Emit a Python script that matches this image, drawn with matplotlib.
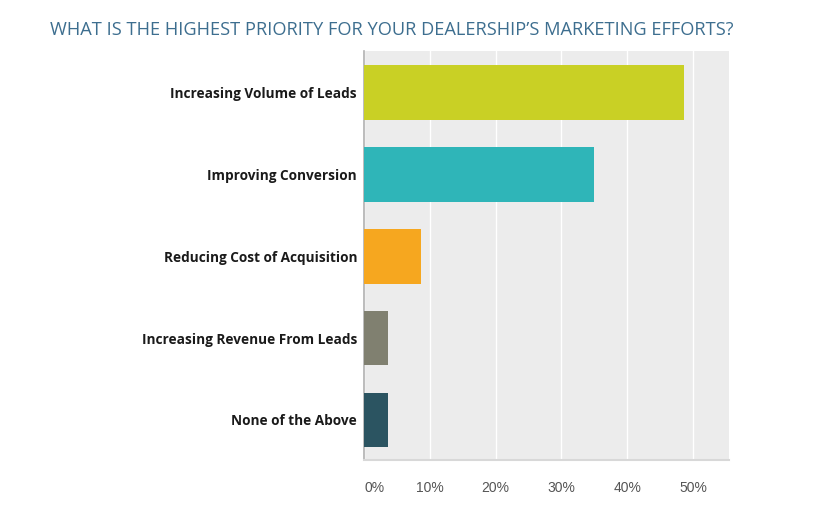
import matplotlib.pyplot as plt

# Survey answers and share of respondents (%)
categories = ['Increasing Volume of Leads', 'Improving Conversion',
              'Reducing Cost of Acquisition', 'Increasing Revenue From Leads',
              'None of the Above']
shares = [48.6, 34.9, 8.7, 3.6, 3.6]
bar_colors = ['#c9d025', '#2fb5b8', '#f6a71f', '#808070', '#2b5461']
tick_values = [0, 10, 20, 30, 40, 50]
tick_labels = ['0%', '10%', '20%', '30%', '40%', '50%']

fig = plt.figure(figsize=(8.38, 5.22), dpi=100)
ax = fig.add_axes([0.4344, 0.1188, 0.4356, 0.7835])
ax.set_facecolor('#ececec')

ypos = range(len(categories))
ax.barh(ypos, shares, height=0.667, color=bar_colors, zorder=3)

ax.set_xlim(0, 55.5)
ax.set_ylim(4.49, -0.51)

ax.set_yticks(list(ypos))
ax.set_yticklabels(categories, fontfamily='Open Sans', fontweight='bold',
                   fontsize=9.8, color='#1a1a1a')
ax.tick_params(axis='y', length=0, pad=5)

ax.set_xticks(tick_values)
ax.set_xticklabels(tick_labels, fontfamily='Liberation Sans', fontsize=10,
                   color='#555555')
ax.tick_params(axis='x', length=0, pad=15)
ax.get_xticklabels()[0].set_horizontalalignment('left')

ax.grid(axis='x', color='white', linewidth=1.0, zorder=1)
ax.set_axisbelow(True)

for side in ['top', 'right']:
    ax.spines[side].set_visible(False)
ax.spines['left'].set_color('#b0b0b0')
ax.spines['bottom'].set_color('#d8d8d8')
ax.spines['left'].set_linewidth(1.2)
ax.spines['bottom'].set_linewidth(1.5)

fig.text(0.0597, 0.942, "WHAT IS THE HIGHEST PRIORITY FOR YOUR DEALERSHIP\u2019S MARKETING EFFORTS?",
         fontfamily='Open Sans', fontsize=13.15, color='#3d6e8f', va='center')

fig.savefig('out.png', dpi=100)
